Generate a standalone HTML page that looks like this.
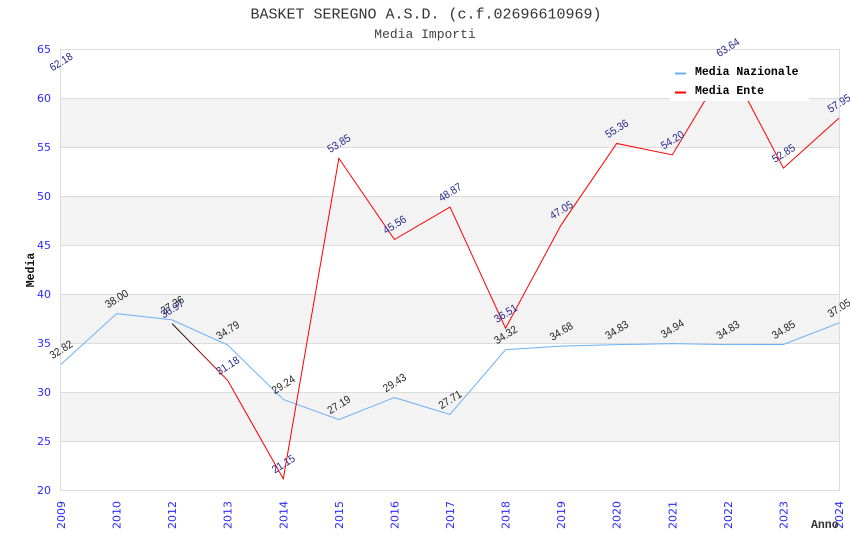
<!DOCTYPE html>
<html><head><meta charset="utf-8"><style>
html,body{margin:0;padding:0;background:#fff;}
svg{display:block;}
.t{font-family:"Liberation Mono",monospace;}
.tick{font-family:"DejaVu Sans","Liberation Sans",sans-serif;font-size:11px;fill:#2a2aff;}
.lb{font-family:"Liberation Sans","DejaVu Sans",sans-serif;font-size:11px;}
.lbb{fill:#1e1e1e;}
.lbr{fill:#25258f;}
</style></head><body>
<svg width="850" height="550" viewBox="0 0 850 550" xmlns="http://www.w3.org/2000/svg">
<defs>
<linearGradient id="g1" x1="172.14" y1="323.69" x2="227.71" y2="380.44" gradientUnits="userSpaceOnUse">
<stop offset="0" stop-color="#000"/><stop offset="1" stop-color="#ff0000"/>
</linearGradient>
</defs>
<text class="t" x="426" y="18.5" font-size="15" text-anchor="middle" fill="#333">BASKET SEREGNO A.S.D. (c.f.02696610969)</text>
<text class="t" x="425" y="38" font-size="13" text-anchor="middle" fill="#444">Media Importi</text>

<!-- bands -->
<rect x="61" y="98" width="778" height="49" fill="#f3f3f3"/>
<rect x="61" y="196" width="778" height="49" fill="#f3f3f3"/>
<rect x="61" y="294" width="778" height="49" fill="#f3f3f3"/>
<rect x="61" y="392" width="778" height="49" fill="#f3f3f3"/>
<g stroke="#dcdcdc" stroke-width="1">
<line x1="61" y1="49.5" x2="839" y2="49.5"/>
<line x1="61" y1="98.5" x2="839" y2="98.5"/>
<line x1="61" y1="147.5" x2="839" y2="147.5"/>
<line x1="61" y1="196.5" x2="839" y2="196.5"/>
<line x1="61" y1="245.5" x2="839" y2="245.5"/>
<line x1="61" y1="294.5" x2="839" y2="294.5"/>
<line x1="61" y1="343.5" x2="839" y2="343.5"/>
<line x1="61" y1="392.5" x2="839" y2="392.5"/>
<line x1="61" y1="441.5" x2="839" y2="441.5"/>
<line x1="61" y1="490.5" x2="840" y2="490.5"/>
<line x1="60.5" y1="49" x2="60.5" y2="491"/>
<line x1="839.5" y1="49" x2="839.5" y2="491"/>
</g>

<!-- y ticks -->
<g class="tick" text-anchor="end">
<text x="51" y="53">65</text>
<text x="51" y="102">60</text>
<text x="51" y="151">55</text>
<text x="51" y="200">50</text>
<text x="51" y="249">45</text>
<text x="51" y="298">40</text>
<text x="51" y="347">35</text>
<text x="51" y="396">30</text>
<text x="51" y="445">25</text>
<text x="51" y="494">20</text>
</g>
<!-- x ticks -->
<g class="tick" text-anchor="end">
<text transform="translate(65,501) rotate(-90)">2009</text>
<text transform="translate(120.57,501) rotate(-90)">2010</text>
<text transform="translate(176.14,501) rotate(-90)">2012</text>
<text transform="translate(231.71,501) rotate(-90)">2013</text>
<text transform="translate(287.29,501) rotate(-90)">2014</text>
<text transform="translate(342.86,501) rotate(-90)">2015</text>
<text transform="translate(398.43,501) rotate(-90)">2016</text>
<text transform="translate(454,501) rotate(-90)">2017</text>
<text transform="translate(509.57,501) rotate(-90)">2018</text>
<text transform="translate(565.14,501) rotate(-90)">2019</text>
<text transform="translate(620.71,501) rotate(-90)">2020</text>
<text transform="translate(676.29,501) rotate(-90)">2021</text>
<text transform="translate(731.86,501) rotate(-90)">2022</text>
<text transform="translate(787.43,501) rotate(-90)">2023</text>
<text transform="translate(843,501) rotate(-90)">2024</text>
</g>
<text class="t" x="811" y="528" font-size="11.5" font-weight="bold" fill="#333">Anno</text>
<text class="t" transform="translate(34,270) rotate(-90)" font-size="11.5" font-weight="bold" fill="#111" text-anchor="middle">Media</text>

<!-- blue series -->
<polyline fill="none" stroke="#6eb0f5" stroke-width="1" points="61,364.36 116.57,313.6 172.14,319.87 227.71,345.06 283.29,399.45 338.86,419.54 394.43,397.59 450,414.44 505.57,349.66 561.14,346.14 616.71,344.67 672.29,343.59 727.86,344.67 783.43,344.47 839,322.91"/>
<!-- red series -->
<line x1="172.14" y1="323.69" x2="227.71" y2="380.44" stroke="url(#g1)" stroke-width="1"/>
<polyline fill="none" stroke="#ff0000" stroke-width="1" points="227.71,380.44 283.29,478.73 338.86,158.27 394.43,239.51 450,207.07 505.57,328.2 561.14,224.91 616.71,143.47 672.29,154.84 727.86,62.33 783.43,168.07 839,118.09"/>

<!-- legend -->
<rect x="670" y="56" width="139" height="45" fill="#fff"/>
<line x1="675" y1="73.5" x2="686" y2="73.5" stroke="#6eb0f5" stroke-width="2"/>
<line x1="675" y1="92.5" x2="686" y2="92.5" stroke="#ff0000" stroke-width="2"/>
<text class="t" x="695" y="75" font-size="11.5" font-weight="bold" fill="#000">Media Nazionale</text>
<text class="t" x="695" y="94" font-size="11.5" font-weight="bold" fill="#000">Media Ente</text>

<!-- blue labels -->
<g class="lb lbb" text-anchor="middle">
<text transform="translate(61,349.36) rotate(-32)" dy="0.35em" textLength="25" lengthAdjust="spacingAndGlyphs">32.82</text>
<text transform="translate(116.57,298.6) rotate(-32)" dy="0.35em" textLength="25" lengthAdjust="spacingAndGlyphs">38.00</text>
<text transform="translate(172.14,304.87) rotate(-32)" dy="0.35em" textLength="25" lengthAdjust="spacingAndGlyphs">37.36</text>
<text transform="translate(227.71,330.06) rotate(-32)" dy="0.35em" textLength="25" lengthAdjust="spacingAndGlyphs">34.79</text>
<text transform="translate(283.29,384.45) rotate(-32)" dy="0.35em" textLength="25" lengthAdjust="spacingAndGlyphs">29.24</text>
<text transform="translate(338.86,404.54) rotate(-32)" dy="0.35em" textLength="25" lengthAdjust="spacingAndGlyphs">27.19</text>
<text transform="translate(394.43,382.59) rotate(-32)" dy="0.35em" textLength="25" lengthAdjust="spacingAndGlyphs">29.43</text>
<text transform="translate(450,399.44) rotate(-32)" dy="0.35em" textLength="25" lengthAdjust="spacingAndGlyphs">27.71</text>
<text transform="translate(505.57,334.66) rotate(-32)" dy="0.35em" textLength="25" lengthAdjust="spacingAndGlyphs">34.32</text>
<text transform="translate(561.14,331.14) rotate(-32)" dy="0.35em" textLength="25" lengthAdjust="spacingAndGlyphs">34.68</text>
<text transform="translate(616.71,329.67) rotate(-32)" dy="0.35em" textLength="25" lengthAdjust="spacingAndGlyphs">34.83</text>
<text transform="translate(672.29,328.59) rotate(-32)" dy="0.35em" textLength="25" lengthAdjust="spacingAndGlyphs">34.94</text>
<text transform="translate(727.86,329.67) rotate(-32)" dy="0.35em" textLength="25" lengthAdjust="spacingAndGlyphs">34.83</text>
<text transform="translate(783.43,329.47) rotate(-32)" dy="0.35em" textLength="25" lengthAdjust="spacingAndGlyphs">34.85</text>
<text transform="translate(839,307.91) rotate(-32)" dy="0.35em" textLength="25" lengthAdjust="spacingAndGlyphs">37.05</text>
</g>
<!-- red labels -->
<g class="lb lbr" text-anchor="middle">
<text transform="translate(61,61.64) rotate(-32)" dy="0.35em" textLength="25" lengthAdjust="spacingAndGlyphs">62.18</text>
<text transform="translate(172.14,308.69) rotate(-32)" dy="0.35em" textLength="25" lengthAdjust="spacingAndGlyphs">36.97</text>
<text transform="translate(227.71,365.44) rotate(-32)" dy="0.35em" textLength="25" lengthAdjust="spacingAndGlyphs">31.18</text>
<text transform="translate(283.29,463.73) rotate(-32)" dy="0.35em" textLength="25" lengthAdjust="spacingAndGlyphs">21.15</text>
<text transform="translate(338.86,143.27) rotate(-32)" dy="0.35em" textLength="25" lengthAdjust="spacingAndGlyphs">53.85</text>
<text transform="translate(394.43,224.51) rotate(-32)" dy="0.35em" textLength="25" lengthAdjust="spacingAndGlyphs">45.56</text>
<text transform="translate(450,192.07) rotate(-32)" dy="0.35em" textLength="25" lengthAdjust="spacingAndGlyphs">48.87</text>
<text transform="translate(505.57,313.2) rotate(-32)" dy="0.35em" textLength="25" lengthAdjust="spacingAndGlyphs">36.51</text>
<text transform="translate(561.14,209.91) rotate(-32)" dy="0.35em" textLength="25" lengthAdjust="spacingAndGlyphs">47.05</text>
<text transform="translate(616.71,128.47) rotate(-32)" dy="0.35em" textLength="25" lengthAdjust="spacingAndGlyphs">55.36</text>
<text transform="translate(672.29,139.84) rotate(-32)" dy="0.35em" textLength="25" lengthAdjust="spacingAndGlyphs">54.20</text>
<text transform="translate(727.86,47.33) rotate(-32)" dy="0.35em" textLength="25" lengthAdjust="spacingAndGlyphs">63.64</text>
<text transform="translate(783.43,153.07) rotate(-32)" dy="0.35em" textLength="25" lengthAdjust="spacingAndGlyphs">52.85</text>
<text transform="translate(839,103.09) rotate(-32)" dy="0.35em" textLength="25" lengthAdjust="spacingAndGlyphs">57.95</text>
</g>
</svg>
</body></html>
